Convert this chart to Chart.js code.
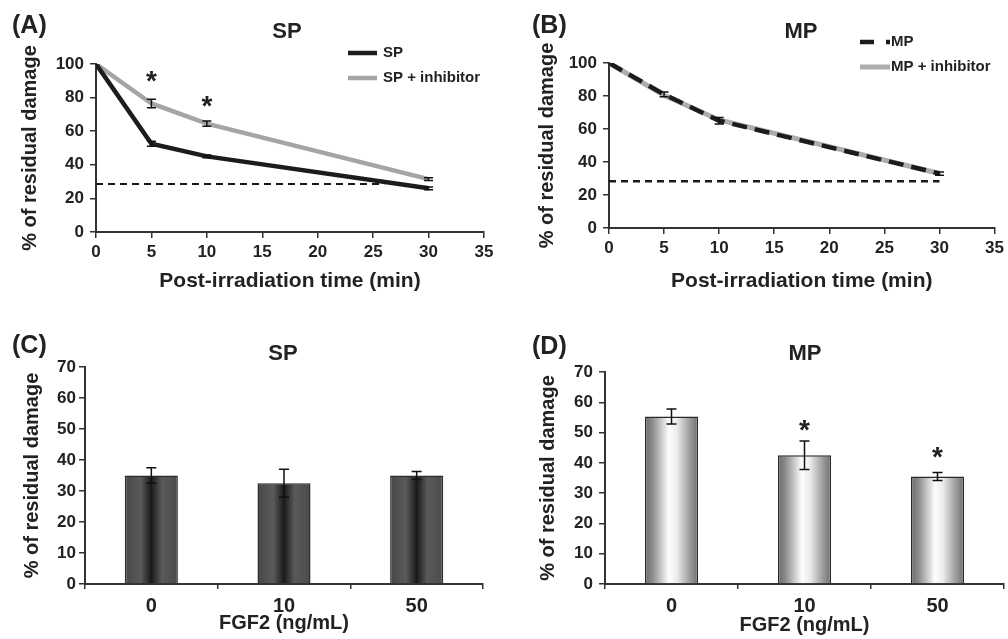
<!DOCTYPE html>
<html>
<head>
<meta charset="utf-8">
<script src="https://cdn.jsdelivr.net/npm/chart.js@4.4.1/dist/chart.umd.min.js"></script>
<style>
  html, body { margin: 0; padding: 0; background: #fff; }
  #fig { position: relative; width: 1008px; height: 639px; }
  canvas { position: absolute; }
</style>
</head>
<body>
<div id="fig">
  <canvas id="chartA" width="504" height="320" style="left:0;top:0"></canvas>
  <canvas id="chartB" width="504" height="320" style="left:504px;top:0"></canvas>
  <canvas id="chartC" width="504" height="319" style="left:0;top:320px"></canvas>
  <canvas id="chartD" width="504" height="319" style="left:504px;top:320px"></canvas>
</div>
<script>
// valores
const timePoints = [0, 5, 10, 30];
const timeTicks = [0, 5, 10, 15, 20, 25, 30, 35];
const damageTicks = [0, 20, 40, 60, 80, 100];

const spValues = [100, 52.5, 45, 26];
const spErr = [0, 1.5, 0.8, 0.8];
const spInhValues = [100, 76.5, 64.5, 31.5];
const spInhErr = [0, 2.5, 1.5, 0.8];
const spRefLevel = 28.5;
const spRefRange = [0, 26];
const spStarTimes = [5, 10];
const spStarLevels = [91.5, 77];

const mpValues = [100, 81, 65, 33];
const mpErr = [0, 1.5, 2, 1];
const mpInhValues = [100, 80.5, 65.5, 33];
const mpRefLevel = 28.3;
const mpRefRange = [0, 30];

const fgfLabels = ["0", "10", "50"];
const barTicks = [0, 10, 20, 30, 40, 50, 60, 70];
const spBars = [35, 32.5, 35];
const spBarErr = [2.5, 4.5, 1.3];
const mpBars = [55.3, 42.5, 35.5];
const mpBarErr = [2.5, 4.7, 1.3];
const mpStarIdx = [1, 2];
const mpStarLevels = [52, 43];

const FONT = '"Liberation Sans", Arial, Helvetica, sans-serif';
const INK = "#222";
Chart.defaults.font.family = FONT;
Chart.defaults.font.weight = "bold";
Chart.defaults.color = INK;

function pontos(xs, ys) {
  return xs.map((x, i) => ({ x: x, y: ys[i] }));
}

// rótulo (A)/(B) e título do painel
const panelText = {
  id: "panelText",
  afterDraw(chart, args, o) {
    const ctx = chart.ctx;
    ctx.save();
    ctx.fillStyle = INK;
    ctx.textBaseline = "middle";
    ctx.font = "bold 25px " + FONT;
    ctx.textAlign = "left";
    ctx.fillText(o.label, o.labelX, o.labelY);
    ctx.font = "bold 22px " + FONT;
    ctx.textAlign = "center";
    ctx.fillText(o.title, o.titleX, o.titleY);
    ctx.restore();
  }
};

const errorBars = {
  id: "errorBars",
  afterDatasetsDraw(chart, args, o) {
    if (!o.items) return;
    const ctx = chart.ctx;
    const ys = chart.scales.y;
    ctx.save();
    ctx.strokeStyle = "#111";
    ctx.lineWidth = 1.5;
    o.items.forEach(item => {
      const meta = chart.getDatasetMeta(item.dataset);
      const data = chart.data.datasets[item.dataset].data;
      meta.data.forEach((el, i) => {
        const e = item.errors[i];
        if (!e) return;
        const v = typeof data[i] === "object" ? data[i].y : data[i];
        const top = ys.getPixelForValue(v + e);
        const bot = ys.getPixelForValue(v - e);
        const c = item.cap;
        ctx.beginPath();
        ctx.moveTo(el.x, top); ctx.lineTo(el.x, bot);
        ctx.moveTo(el.x - c, top); ctx.lineTo(el.x + c, top);
        ctx.moveTo(el.x - c, bot); ctx.lineTo(el.x + c, bot);
        ctx.stroke();
      });
    });
    ctx.restore();
  }
};

const stars = {
  id: "stars",
  afterDatasetsDraw(chart, args, o) {
    if (!o.at) return;
    const ctx = chart.ctx;
    ctx.save();
    ctx.fillStyle = INK;
    ctx.font = "bold 28px " + FONT;
    ctx.textAlign = "center";
    ctx.textBaseline = "alphabetic";
    o.at.forEach((xv, i) => {
      const x = chart.scales.x.getPixelForValue(xv);
      const y = chart.scales.y.getPixelForValue(o.levels[i]);
      ctx.fillText("*", x, y + 12);
    });
    ctx.restore();
  }
};

const lineLegend = {
  id: "lineLegend",
  afterDraw(chart, args, o) {
    if (!o.x) return;
    const ctx = chart.ctx;
    ctx.save();
    ctx.font = "bold 15px " + FONT;
    ctx.textBaseline = "middle";
    ctx.textAlign = "left";
    chart.data.datasets.filter(d => d.label).forEach((d, i) => {
      const y = o.y + i * o.step;
      ctx.strokeStyle = d.borderColor;
      ctx.lineWidth = d.borderWidth;
      ctx.setLineDash(d.legendDash || []);
      ctx.beginPath();
      ctx.moveTo(o.x, y);
      ctx.lineTo(o.x + o.len, y);
      ctx.stroke();
      ctx.setLineDash([]);
      ctx.fillStyle = INK;
      ctx.fillText(d.label, o.textX, y);
    });
    ctx.restore();
  }
};

function eixoY(max, step, ticks, width, pad) {
  return {
    type: "linear", min: 0, max: max,
    afterBuildTicks: s => { s.ticks = ticks.map(v => ({ value: v })); },
    ticks: { stepSize: step, padding: pad, color: INK, font: { size: 17, weight: "bold" } },
    grid: { drawOnChartArea: false, tickLength: 6, color: "#333", lineWidth: 1.5 },
    border: { color: "#333", width: 2 },
    title: { display: true, text: "% of residual damage", color: INK, padding: 0,
             font: { size: 20, weight: "bold" } },
    afterFit: s => { s.width = width; }
  };
}

function eixoTempo(height) {
  return {
    type: "linear", min: 0, max: 35,
    afterBuildTicks: s => { s.ticks = timeTicks.map(v => ({ value: v })); },
    ticks: { stepSize: 5, padding: 4, color: INK, maxRotation: 0, font: { size: 17, weight: "bold" } },
    grid: { drawOnChartArea: false, tickLength: 6, color: "#333", lineWidth: 1.5 },
    border: { color: "#333", width: 2 },
    title: { display: true, text: "Post-irradiation time (min)", color: INK, padding: 0,
             font: { size: 21, weight: "bold" } },
    afterFit: s => { s.height = height; }
  };
}

function eixoFgf(height) {
  return {
    type: "category",
    ticks: { padding: 5, color: INK, font: { size: 20, weight: "bold" } },
    grid: { drawOnChartArea: false, tickLength: 5, color: "#333", lineWidth: 1.5, offset: true },
    border: { color: "#333", width: 2 },
    title: { display: true, text: "FGF2 (ng/mL)", color: INK, padding: 0,
             font: { size: 20, weight: "bold" } },
    afterFit: s => { s.height = height; }
  };
}

function gradiente(stops) {
  return function (context) {
    const chart = context.chart;
    const xs = chart.scales.x;
    const fallback = stops[Math.floor(stops.length / 2)][1];
    if (!xs || context.dataIndex === undefined) return fallback;
    const cx = xs.getPixelForValue(context.dataIndex);
    const half = xs.width / chart.data.labels.length * 0.4 / 2;
    if (!isFinite(cx) || !isFinite(half) || half <= 0) return fallback;
    const g = chart.ctx.createLinearGradient(cx - half, 0, cx + half, 0);
    stops.forEach(s => g.addColorStop(s[0], s[1]));
    return g;
  };
}

function linha(label, valores, cor, largura, dash, ordem) {
  return {
    label: label,
    data: pontos(timePoints, valores),
    borderColor: cor,
    borderWidth: largura,
    borderDash: dash,
    legendDash: dash,
    pointRadius: 0,
    tension: 0,
    order: ordem
  };
}

function referencia(nivel, faixa, largura) {
  return {
    data: pontos(faixa, [nivel, nivel]),
    borderColor: "#1a1a1a",
    borderWidth: largura,
    borderDash: [7, 5],
    pointRadius: 0,
    order: 3
  };
}

const base = {
  responsive: false,
  animation: false,
  events: [],
  plugins: { legend: { display: false }, tooltip: { enabled: false } }
};

new Chart(document.getElementById("chartA"), {
  type: "line",
  data: {
    datasets: [
      linha("SP", spValues, "#1c1c1c", 4.5, [], 0),
      linha("SP + inhibitor", spInhValues, "#a5a5a5", 4.5, [], 1),
      referencia(spRefLevel, spRefRange, 2)
    ]
  },
  options: {
    ...base,
    layout: { padding: { left: 18, right: 20, top: 64, bottom: 26 } },
    scales: { x: eixoTempo(62), y: eixoY(100, 20, damageTicks, 78, 6) },
    plugins: {
      ...base.plugins,
      panelText: { label: "(A)", labelX: 12, labelY: 26, title: "SP", titleX: 287, titleY: 32 },
      errorBars: { items: [{ dataset: 0, errors: spErr, cap: 4.5 }, { dataset: 1, errors: spInhErr, cap: 4.5 }] },
      stars: { at: spStarTimes, levels: spStarLevels },
      lineLegend: { x: 348, y: 53, step: 25, len: 29, textX: 383 }
    }
  },
  plugins: [panelText, errorBars, stars, lineLegend]
});

new Chart(document.getElementById("chartB"), {
  type: "line",
  data: {
    datasets: [
      Object.assign(linha("MP", mpValues, "#1c1c1c", 4.5, [15, 8], 0), { legendDash: [14, 12] }),
      linha("MP + inhibitor", mpInhValues, "#adadad", 5, [], 1),
      referencia(mpRefLevel, mpRefRange, 2.5)
    ]
  },
  options: {
    ...base,
    layout: { padding: { left: 31, right: 13, top: 63, bottom: 26 } },
    scales: { x: eixoTempo(66), y: eixoY(100, 20, damageTicks, 74, 6) },
    plugins: {
      ...base.plugins,
      panelText: { label: "(B)", labelX: 28, labelY: 26, title: "MP", titleX: 297, titleY: 32 },
      errorBars: { items: [{ dataset: 0, errors: mpErr, cap: 4.5 }] },
      lineLegend: { x: 356, y: 42, step: 25, len: 30, textX: 387 }
    }
  },
  plugins: [panelText, errorBars, lineLegend]
});

new Chart(document.getElementById("chartC"), {
  type: "bar",
  data: {
    labels: fgfLabels,
    datasets: [{
      data: spBars,
      barPercentage: 0.4,
      categoryPercentage: 1,
      borderColor: "#2a2a2a",
      borderWidth: 1.5,
      backgroundColor: gradiente([[0, "#474747"], [0.3, "#5a5a5a"], [0.5, "#1a1a1a"], [0.7, "#5a5a5a"], [1, "#4a4a4a"]])
    }]
  },
  options: {
    ...base,
    layout: { padding: { left: 20, right: 21, top: 47, bottom: 4 } },
    scales: { x: eixoFgf(51), y: eixoY(70, 10, barTicks, 65, 3) },
    plugins: {
      ...base.plugins,
      panelText: { label: "(C)", labelX: 12, labelY: 26, title: "SP", titleX: 283, titleY: 34 },
      errorBars: { items: [{ dataset: 0, errors: spBarErr, cap: 5 }] }
    }
  },
  plugins: [panelText, errorBars]
});

new Chart(document.getElementById("chartD"), {
  type: "bar",
  data: {
    labels: fgfLabels,
    datasets: [{
      data: mpBars,
      barPercentage: 0.4,
      categoryPercentage: 1,
      borderColor: "#2a2a2a",
      borderWidth: 1.5,
      backgroundColor: gradiente([[0, "#6a6a6a"], [0.15, "#8e8e8e"], [0.45, "#fdfdfd"], [0.6, "#ececec"], [0.85, "#9a9a9a"], [1, "#707070"]])
    }]
  },
  options: {
    ...base,
    layout: { padding: { left: 32, right: 4, top: 52, bottom: 2 } },
    scales: { x: eixoFgf(53), y: eixoY(70, 10, barTicks, 69, 6) },
    plugins: {
      ...base.plugins,
      panelText: { label: "(D)", labelX: 28, labelY: 27, title: "MP", titleX: 301, titleY: 34 },
      errorBars: { items: [{ dataset: 0, errors: mpBarErr, cap: 5 }] },
      stars: { at: mpStarIdx, levels: mpStarLevels }
    }
  },
  plugins: [panelText, errorBars, stars]
});
</script>
</body>
</html>
